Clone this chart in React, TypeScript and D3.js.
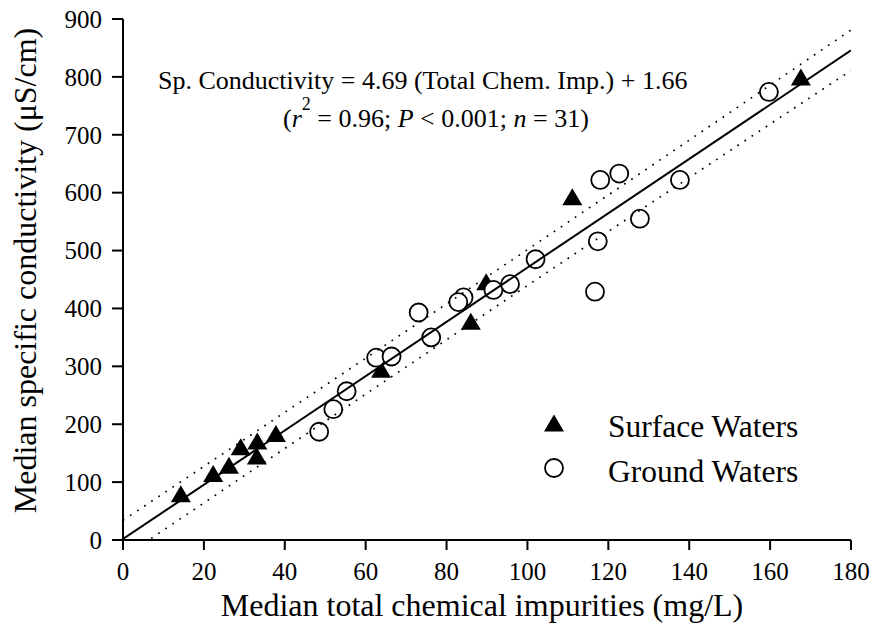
import React from 'react';
import * as d3 from 'd3';

// surface waters (filled triangles)
const surfaceX = [14.3, 22.3, 26.2, 29.1, 33.2, 33.1, 37.8, 63.8, 86.0, 89.8, 111.1, 167.6];
const surfaceY = [80, 115, 129, 161, 171, 145, 184, 295, 378, 446, 593, 800];

// ground waters (open circles)
const groundX = [48.5, 52.0, 55.3, 62.6, 66.4, 73.1, 76.2, 84.2, 82.9, 91.6, 95.7, 102.0, 118.0, 122.7, 117.4, 116.7, 127.8, 137.7, 159.7];
const groundY = [187, 226, 257, 315, 317, 393, 350, 419, 411, 432, 442, 485, 622, 633, 516, 429, 555, 622, 774];

// regression fit from the equation text
const fitSlope = 4.69;
const fitIntercept = 1.66;

// dotted 95% band
const bandX = [0, 60, 120, 180];
const bandUpper = [34, 314, 596, 881];
const bandLower = [-30, 252, 533, 811];

const xTicks = [0, 20, 40, 60, 80, 100, 120, 140, 160, 180];
const yTicks = [0, 100, 200, 300, 400, 500, 600, 700, 800, 900];

const FONT = '"Liberation Serif", "Times New Roman", serif';

const left = 123;
const right = 851;
const top = 19;
const bottom = 540;

function trianglePath(cx: number, cy: number, w = 20, h = 17): string {
  return `M${cx},${cy - h / 2}L${cx + w / 2},${cy + h / 2}L${cx - w / 2},${cy + h / 2}Z`;
}

export default function App(): React.ReactElement {
  const x = d3.scaleLinear().domain([0, 180]).range([left, right]);
  const y = d3.scaleLinear().domain([0, 900]).range([bottom, top]);

  const fitLine = d3.line<number>()
    .x((d) => x(d))
    .y((d) => y(fitSlope * d + fitIntercept));

  const bandLine = d3.line<[number, number]>()
    .x((d) => x(d[0]))
    .y((d) => y(d[1]))
    .curve(d3.curveMonotoneX);

  const upper = bandX.map((v, i) => [v, bandUpper[i]] as [number, number]);
  const lower = bandX.map((v, i) => [v, bandLower[i]] as [number, number]);

  return (
    <svg
      width={875}
      height={630}
      style={{ position: 'absolute', left: 0, top: 0, background: '#fff' }}
      fontFamily={FONT}
    >
      <defs>
        <clipPath id="plot">
          <rect x={left} y={top} width={right - left} height={bottom - top} />
        </clipPath>
      </defs>

      {/* triangles first, circles drawn over them */}
      {surfaceX.map((v, i) => (
        <path key={`s${i}`} d={trianglePath(x(v), y(surfaceY[i]))} fill="#000" />
      ))}
      {groundX.map((v, i) => (
        <circle key={`g${i}`} cx={x(v)} cy={y(groundY[i])} r={9} fill="#fff" stroke="#000" strokeWidth={1.8} />
      ))}

      <g clipPath="url(#plot)" fill="none" stroke="#000">
        <path d={fitLine([0, 180]) || ''} strokeWidth={2} />
        <path d={bandLine(upper) || ''} strokeWidth={1.7} strokeDasharray="1.7 6.8" />
        <path d={bandLine(lower) || ''} strokeWidth={1.7} strokeDasharray="1.7 6.8" />
      </g>

      {/* axes */}
      <g stroke="#000" strokeWidth={2}>
        <line x1={left} x2={right} y1={bottom} y2={bottom} />
        <line x1={left} x2={left} y1={top} y2={bottom} />
        {xTicks.map((t) => (
          <line key={`xt${t}`} x1={x(t)} x2={x(t)} y1={bottom} y2={bottom + 10} />
        ))}
        {yTicks.map((t) => (
          <line key={`yt${t}`} x1={left - 11} x2={left} y1={y(t)} y2={y(t)} />
        ))}
      </g>
      <g fontSize={25} fill="#000">
        {xTicks.map((t) => (
          <text key={`xl${t}`} x={x(t)} y={580} textAnchor="middle">{t}</text>
        ))}
        {yTicks.map((t) => (
          <text key={`yl${t}`} x={102} y={y(t)} dy="0.35em" textAnchor="end">{t}</text>
        ))}
      </g>

      <text x={482} y={616} fontSize={32} textAnchor="middle">
        Median total chemical impurities (mg/L)
      </text>
      <text transform={`translate(36, ${(top + bottom) / 2 - 9}) rotate(-90)`} fontSize={32} textAnchor="middle">
        Median specific conductivity (μS/cm)
      </text>

      {/* equation */}
      <text x={158} y={89} fontSize={26}>
        Sp. Conductivity = 4.69 (Total Chem. Imp.) + 1.66
      </text>
      <text x={283} y={127} fontSize={26}>
        (<tspan fontStyle="italic">r</tspan>
        <tspan fontSize={18} dy={-17}>2</tspan>
        <tspan dy={17}> = 0.96; </tspan>
        <tspan fontStyle="italic">P</tspan>
        <tspan> &lt; 0.001; </tspan>
        <tspan fontStyle="italic">n</tspan>
        <tspan> = 31)</tspan>
      </text>

      {/* legend */}
      <path d={trianglePath(554, 423)} fill="#000" />
      <circle cx={554} cy={468} r={9} fill="#fff" stroke="#000" strokeWidth={1.8} />
      <text x={608} y={437} fontSize={31.5}>Surface Waters</text>
      <text x={608} y={482} fontSize={31.5}>Ground Waters</text>
    </svg>
  );
}
